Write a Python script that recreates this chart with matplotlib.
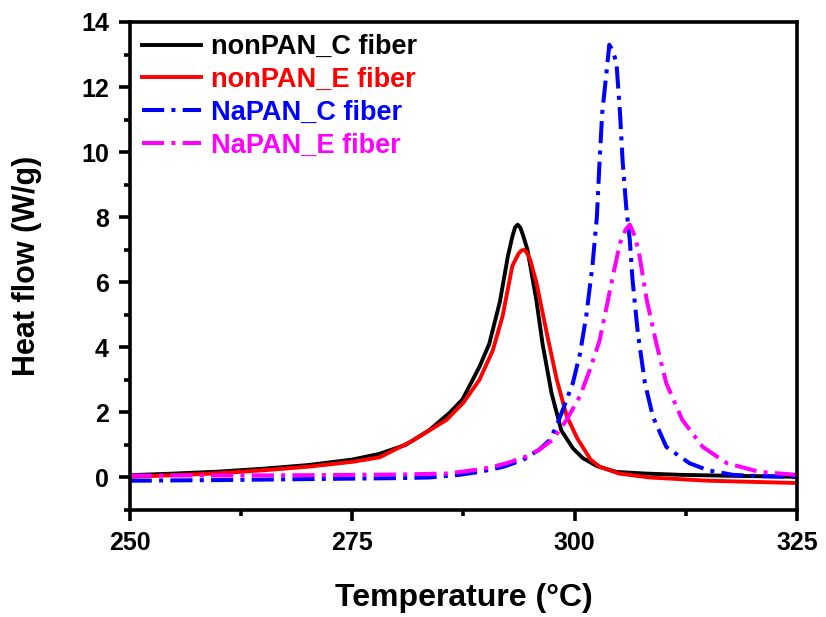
import matplotlib
matplotlib.use("Agg")
import matplotlib.pyplot as plt
from matplotlib.ticker import MultipleLocator

plt.rcParams['font.family'] = ['Liberation Sans', 'DejaVu Sans']
plt.rcParams['font.weight'] = 'bold'

# nonPAN_C fiber (black)
t_nc = [250, 255, 260, 265, 270, 275, 278, 281, 283.7, 286, 287.4, 289.3, 290.4, 291.6,
        292.5, 293.0, 293.3, 293.6, 293.9, 294.2, 294.7, 295.7, 296.4, 297.4, 298.5, 299.8,
        300.9, 302.5, 304.7, 308, 312, 318, 325]
v_nc = [0.07, 0.12, 0.18, 0.27, 0.38, 0.55, 0.72, 1.0, 1.46, 2.0, 2.4, 3.4, 4.1, 5.4,
        6.8, 7.4, 7.68, 7.77, 7.68, 7.45, 7.0, 5.45, 4.1, 2.6, 1.45, 0.9,
        0.6, 0.35, 0.17, 0.12, 0.08, 0.05, 0.02]

# nonPAN_E fiber (red)
t_ne = [250, 255, 260, 265, 270, 275, 278.1, 281.8, 285.6, 287.5, 289.3, 290.8, 291.9,
        293.0, 293.7, 294.0, 294.3, 294.6, 295.0, 295.7, 296.9, 298.0, 299.1, 300.3, 300.9,
        301.8, 302.8, 305, 308.4, 315, 325]
v_ne = [0.02, 0.07, 0.13, 0.22, 0.33, 0.48, 0.62, 1.13, 1.77, 2.3, 3.0, 3.9, 4.95,
        6.5, 6.88, 6.97, 7.0, 6.92, 6.7, 6.0, 4.4, 3.0, 1.9, 1.2, 0.94,
        0.55, 0.33, 0.12, 0.0, -0.1, -0.17]

# NaPAN_C fiber (blue)
t_sc = [250, 260, 270, 280, 283.7, 287, 289.3, 292, 294.2, 296, 297.2, 298.0, 298.7,
        299.8, 300.6, 301.3, 302.0, 302.5, 302.8, 303.1, 303.6, 303.9, 304.3, 304.7,
        305.1, 305.4, 305.8, 306.2, 306.5, 307.1, 307.9, 308.8, 310.3, 312.9, 315,
        317.8, 321, 325]
v_sc = [-0.1, -0.08, -0.05, -0.02, 0.0, 0.08, 0.17, 0.33, 0.54, 0.85, 1.15, 1.6, 2.1,
        2.9, 3.8, 4.95, 6.5, 8.0, 9.7, 11.2, 12.5, 13.3, 13.1, 12.75,
        11.2, 9.7, 8.3, 7.3, 6.1, 4.45, 2.9, 1.87, 0.94, 0.44, 0.22,
        0.08, 0.04, 0.02]

# NaPAN_E fiber (magenta)
t_se = [250, 260, 270, 280, 285.6, 288, 290.4, 292.5, 294.6, 296, 297.5, 299.1, 300.6,
        301.7, 302.8, 303.6, 304.3, 305.1, 305.7, 306.2, 306.8, 307.3, 308.1, 309.2,
        310.3, 312.1, 314.4, 317.1, 320.8, 325]
v_se = [0.06, 0.06, 0.07, 0.09, 0.12, 0.2, 0.3, 0.45, 0.65, 0.85, 1.15, 1.77, 2.5,
        3.3, 4.2, 5.25, 6.2, 7.2, 7.6, 7.77, 7.4, 6.8, 5.46, 4.1,
        2.9, 1.77, 0.94, 0.44, 0.17, 0.08]

labels = ['nonPAN_C fiber', 'nonPAN_E fiber', 'NaPAN_C fiber', 'NaPAN_E fiber']
colors = ['black', 'red', 'blue', 'magenta']

fig = plt.figure(figsize=(8.26, 6.17), dpi=100)
ax = fig.add_axes([0.157, 0.1734, 0.808, 0.791])

dd = [5.5, 1.8, 1.0, 1.8]
ax.plot(t_nc, v_nc, color=colors[0], lw=2.8, label=labels[0], solid_joinstyle='round')
ax.plot(t_ne, v_ne, color=colors[1], lw=2.8, label=labels[1], solid_joinstyle='round')
ax.plot(t_sc, v_sc, color=colors[2], lw=2.9, dashes=dd, label=labels[2])
ax.plot(t_se, v_se, color=colors[3], lw=2.9, dashes=dd, label=labels[3])

ax.set_xlim(250, 325)
ax.set_ylim(-1, 14)
ax.xaxis.set_major_locator(MultipleLocator(25))
ax.xaxis.set_minor_locator(MultipleLocator(12.5))
ax.yaxis.set_major_locator(MultipleLocator(2))
ax.yaxis.set_minor_locator(MultipleLocator(1))

for s in ax.spines.values():
    s.set_linewidth(2.6)
ax.tick_params(which='major', direction='out', length=8, width=2.6, labelsize=18, pad=7)
ax.tick_params(which='minor', direction='out', length=4.5, width=2.6)
ax.tick_params(top=False, right=False, which='both')

ax.set_xlabel('Temperature (°C)', fontsize=23, fontweight='bold', labelpad=20)
ax.set_ylabel('Heat flow (W/g)', fontsize=22, fontweight='bold', labelpad=28)

leg = ax.legend(loc='upper left', bbox_to_anchor=(0.018, 0.975), frameon=False,
                fontsize=19.5, handlelength=2.2, handletextpad=0.35,
                labelspacing=0.25, borderpad=0, borderaxespad=0)
for txt, c in zip(leg.get_texts(), colors):
    txt.set_color(c)

fig.savefig('out.png', dpi=100)
